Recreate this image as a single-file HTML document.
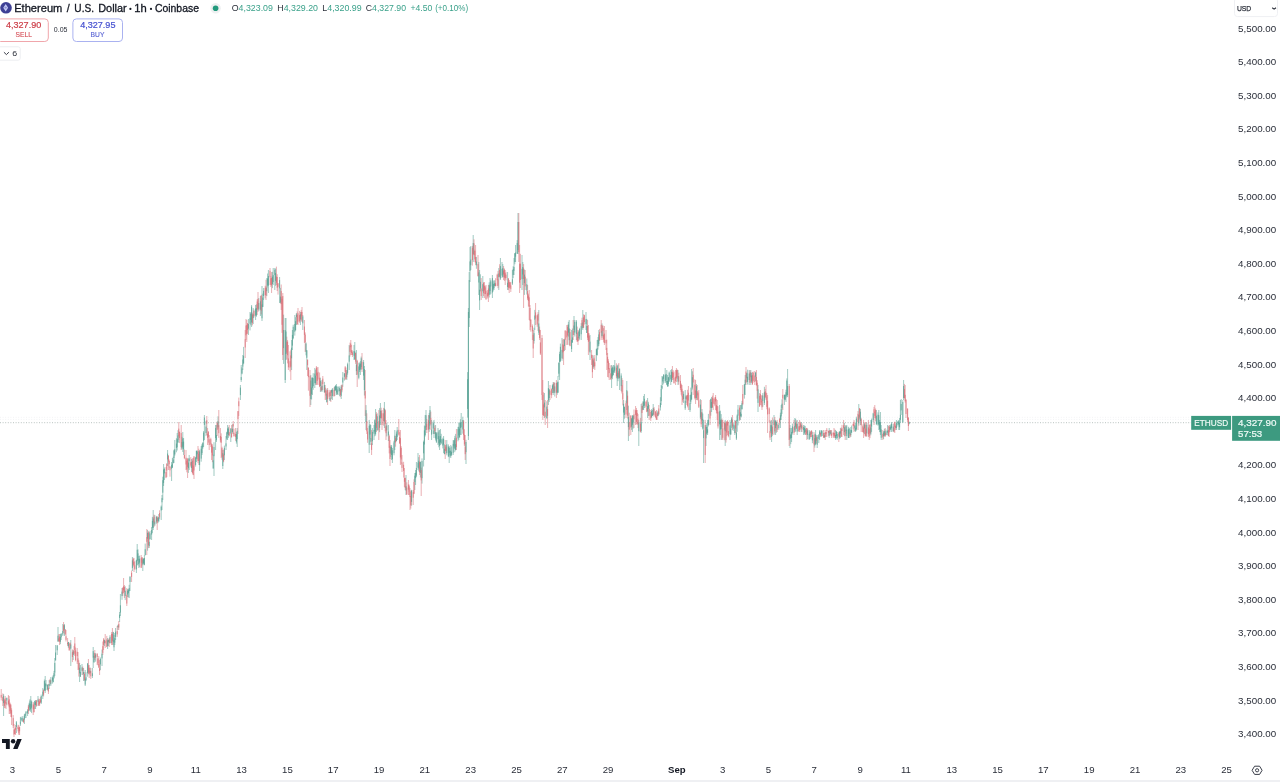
<!DOCTYPE html>
<html><head><meta charset="utf-8">
<title>ETHUSD 1h chart</title>
<style>
html,body{margin:0;padding:0;background:#fff;}
body{width:1280px;height:782px;position:relative;overflow:hidden;}
svg{position:absolute;left:0;top:0;filter:blur(0.3px);}
text{font-family:"Liberation Sans",Arial,sans-serif;white-space:pre;}
</style></head><body>
<svg width="1280" height="782" viewBox="0 0 1280 782">
<rect x="0" y="780" width="1280" height="2" fill="#eff0f3"/>
<!-- bid/ask faint lines -->
<line x1="0" y1="417.3" x2="1191" y2="417.3" stroke="#f3f3f4" stroke-width="1" stroke-dasharray="1 1.6"/>
<line x1="0" y1="419.4" x2="1191" y2="419.4" stroke="#f3f4f6" stroke-width="1" stroke-dasharray="1 1.6"/>
<!-- last price line -->
<line x1="0" y1="422.7" x2="1191" y2="422.7" stroke="#b9c3c0" stroke-width="1" stroke-dasharray="1 1.6"/>
<!-- candles -->
<g fill="none" stroke-width="0.8">
<path d="M3.60 694V716M6.80 697.6V705.2M16.40 721V733M20.40 717V726M21.20 716.6V721.5M22.80 716V722M24.40 714V724M25.20 713.5V718.1M26.00 711V718M27.60 709.1V716M29.20 702.7V710.6M30.00 699.2V711.2M30.80 696V712M31.60 700.4V713.1M34.80 700.8V709M35.60 700V709M38.00 696V706M41.20 694.6V704M42.80 688V699M44.40 679.5V691.1M45.20 676V693M46.00 680V690M47.60 684.3V690.5M49.20 680V689M50.80 677V686M52.40 676.5V683.6M53.20 675V682.3M54.00 670.9V678.5M54.80 658V676M55.60 645V660.7M57.20 645V655M58.00 627V642M60.40 634V644.1M61.20 633V640M62.80 624V636M64.40 624V636M68.40 641.9V647.8M70.80 640V666M73.20 650V660M79.60 663V682M80.40 665V676.9M82.00 664V675M83.60 668V681M85.20 670V686M86.00 672.2V681.1M87.60 663V676.7M90.00 667.4V673.5M92.40 668V678M93.20 647V668M94.00 652.8V662.5M95.60 653.1V661.7M100.40 657.5V670.1M102.00 649.5V666M104.40 639.7V646.1M107.60 638V649M108.40 639.5V646.1M110.00 635.1V643.4M113.20 631.8V644.9M114.00 635V651M114.80 633V645M115.60 628V640M118.00 624.7V630M119.60 612V622M120.40 594V616M122.00 588V599.8M125.20 586.3V600.1M127.60 589V597M128.40 588.9V597.4M129.20 584.8V598M130.00 576.5V591M132.40 557V571M136.40 559.7V573M137.20 544V565M138.00 549.4V565.6M138.80 556V568M139.60 555.6V567.3M142.80 558V571M143.60 558.5V564.4M144.40 555V565.3M145.20 543.6V555.5M147.60 530V550.7M149.20 532V548M150.00 530.8V539.5M151.60 527.1V540M152.40 516.9V533.2M153.20 510V530M154.80 515V526M156.40 515.9V523.7M158.00 517.4V523.2M158.80 514V522M161.20 505.5V520M162.00 495V510M162.80 476.7V500M163.60 464V486M164.40 467.4V480M167.60 450V466M171.60 462V481M172.40 458V468M173.20 456.7V463.5M174.00 449.7V463M174.80 440V455.6M176.40 438.2V452.3M177.20 433V450.5M178.00 430.2V442.8M182.00 436.8V449.3M182.80 432V452M183.60 438V455M188.40 458.4V472.9M189.20 455V470M191.60 459V472M195.60 456.9V466.6M196.40 450.5V462M197.20 450.4V459.3M199.60 450V471M201.20 446V461.7M202.00 443.9V455M202.80 442.3V448.8M203.60 431.1V447M204.40 415V440M206.00 420.7V436.1M213.20 454.6V468.7M214.00 442.2V476M215.60 425V450M216.40 424.9V442M218.00 416.3V428.8M222.80 450V469M224.40 445.6V460M226.00 436V450M226.80 431.7V439.9M227.60 425V440M228.40 426.9V437.9M230.80 428V442M232.40 424.3V433.5M236.40 431.9V443.6M237.20 428V447M240.40 385V400M241.20 365V381.9M242.00 367.1V374.3M242.80 355V370M243.60 346.9V364.2M248.40 319V335M250.00 312V330.4M250.80 312.5V325.3M251.60 305V327M253.20 308V324M255.60 305V320M256.40 304.3V316.8M258.80 298V310.9M260.40 296V316M262.00 286V321M262.80 293.6V307.1M263.60 288V300M266.80 278V296.1M267.60 273.5V287.7M268.40 270V293M272.40 271.8V288.1M273.20 268V285M274.80 268V290M275.60 268.6V285.8M279.60 277V303M280.40 287.9V303.4M283.60 314.7V363.9M285.20 318V383M286.00 318V360M291.60 340V370M292.40 330V350M293.20 324.7V339.3M294.80 315V335.6M295.60 317.2V330.7M296.40 313V325M300.40 312V325M302.80 315V330M306.00 342.4V355.3M306.80 350V370M310.80 375V405M311.60 377.6V399.5M312.40 377.1V395M313.20 373.2V389.8M314.80 368V388M315.60 369.5V384.9M320.40 377.7V392M322.00 380V392M324.40 381.9V392.6M326.80 388.6V402.6M330.00 391.7V400.7M331.60 389.7V398.9M332.40 388V400M334.80 386V396M335.60 385.1V390.8M336.40 384V395M337.20 389.3V394.8M338.00 386V395M339.60 386.4V396.2M341.20 385V399M342.80 372V386.8M344.40 372.9V380.6M346.80 370V380M347.60 362.7V374.7M349.20 345V370M354.00 345V360M354.80 342V360M356.40 350V375M358.80 362.7V379.3M359.60 362.5V372M360.40 361.1V375M361.20 356.6V369.7M363.60 360V380M364.40 366V395.5M366.00 405.1V430M369.20 420V453M370.00 424.3V438.6M370.80 425V445M372.40 428.1V445.1M374.00 425V440M374.80 419.3V436.3M375.60 409V435.5M377.20 413.4V430.8M379.60 408.1V432.2M380.40 403V425M384.40 402V428M386.80 422.9V436.4M388.40 425V441M390.80 444.9V456.9M391.60 445V460M392.40 448V463M394.00 440.8V455.3M394.80 430V450M396.40 431.5V441.5M397.20 427V440M406.00 475V495M411.60 489.8V505.7M414.80 473V490M415.60 470V485M416.40 462V477.2M418.00 453V470M418.80 457.1V471.4M420.40 461.5V477.5M422.00 458.4V483.6M423.60 440.6V466.5M424.40 425.5V460M425.20 415V436.5M426.00 410V430M429.20 412.9V431.9M430.00 406V425.7M431.60 420V440M433.20 421.6V433.9M434.00 420V438M435.60 425V440.5M436.40 432.1V443M438.00 428V445M438.80 430.3V447.3M439.60 430V450M440.40 429V445M441.20 433.8V444.3M442.80 437.7V448.4M443.60 436V453M444.40 444.3V454.4M446.80 440V455.3M448.40 444.4V457.1M449.20 446V463M450.00 447.6V457.3M450.80 445V458M451.60 446.4V455.8M453.20 440V455M454.00 440.1V448.4M454.80 435.9V452.2M455.60 433.9V450.5M458.00 426.9V441.3M458.80 423V440M459.60 422.3V437.6M460.40 419.2V435M461.20 413V435M462.80 416.7V433.7M466.00 439.8V464M467.60 372.1V417.7M468.40 308V440M469.20 272V327M470.00 247V282M470.80 246V270M473.20 235V262M476.40 256.9V268.8M478.80 262V295M479.60 270V310M480.40 274.3V291.4M482.80 276V298M489.20 282.3V297.5M490.00 278V295M490.80 279.8V293.9M492.40 275V298M493.20 281.1V291.5M494.00 280V290M494.80 280.6V286.1M498.80 268V290M500.40 258V280M502.00 262V278M502.80 264V277.2M507.60 272V290M512.40 270V285M513.20 266.2V278.2M514.00 258V275M514.80 253.2V264.3M515.60 245V262M517.20 240.1V253.8M518.00 213V254M522.00 255V290M522.80 262V285M524.40 269.5V294.9M526.80 278.5V294.5M534.00 327.7V343.6M534.80 309.9V330M538.80 310V335M544.40 393V418M546.80 401.3V418.7M548.40 381V405M549.20 389.2V402M552.40 384.6V393.1M553.20 382V395M554.80 382.8V396.5M557.20 381.6V394.8M558.00 376V393M558.80 362.6V376.6M559.60 351.7V380M560.40 343.6V362.1M562.00 338V360.8M564.40 338.8V351M568.40 321.8V336.6M569.20 320V345M571.60 330V352M572.40 328.5V342.7M574.00 316V335M574.80 320V336.5M576.40 320V340M578.80 330.5V340.7M579.60 327.8V339.6M581.20 323.1V340M582.80 310V330M586.00 312V330M586.80 318.9V333M590.00 335V360M593.20 355.3V368.9M596.40 348.8V361.1M597.20 340V355.6M598.00 337V349.6M598.80 330V346.1M602.00 323.4V337.7M611.60 365V388M612.40 366.4V379.2M613.20 365V375.4M614.00 365.1V372.9M614.80 360V372.8M617.20 365V386M618.00 364.5V381.2M619.60 368.5V390M621.20 373.3V391.1M623.60 400V423M624.40 406.5V418.8M626.80 381V410M628.40 405.7V441M631.60 417.9V429.9M632.40 415V432M633.20 415.4V428.6M638.80 420V446M641.20 404V432.8M642.80 401.4V410.2M643.60 396V410M644.40 394V408M647.60 398V418M648.40 401.8V416M651.60 409.1V417.8M652.40 410V415.9M653.20 404V415M658.00 410.6V416.3M660.40 397.2V410.5M661.20 385V405M662.00 376V389.3M662.80 376.3V385.1M663.60 374.2V383.6M665.20 368V383M666.00 373.9V382.3M666.80 370V385.2M667.60 375V387M668.40 377V386.4M669.20 371.6V382M670.80 370V385M671.60 369.1V382M678.00 370V385M683.60 391.4V403M685.20 390V410M686.00 395.3V402.8M690.00 395V412M690.80 387.6V403.8M691.60 369V400M692.40 371.3V389.5M696.40 384V399.9M700.40 399.1V419.2M702.00 409V421.3M702.80 413.6V429.6M703.60 420V463M706.00 425V446M706.80 423.1V434.5M707.60 420V435M708.40 413.9V426.4M710.80 398.6V415.7M711.60 397V412M719.60 405V440M720.40 410.7V435M721.20 414.1V440M725.20 420V446M730.00 420V440M730.80 421.8V435M731.60 417.1V428.2M733.20 423V430.9M734.80 420V435M736.40 420V440M737.20 414.4V431.8M738.00 405V425.4M740.40 405V420M741.20 405V417.3M742.00 400.9V409.5M744.40 384.1V398.6M745.20 375V395M746.80 372.8V382.3M747.60 369.7V384.6M749.20 370V385M750.80 370V385M751.60 372.9V383M755.60 372.1V381.1M758.00 384.9V412M762.80 393.1V406.8M764.40 386.8V405M770.80 420.9V433.2M771.60 420V442M774.00 415V435M775.60 420V435M776.40 421.7V432.8M778.80 423V429.8M780.40 412.7V428M781.20 405V420M782.00 399.3V413.9M784.40 394.5V405M785.20 394.5V400.3M786.00 389.7V402M786.80 378.4V397.5M787.60 369V397M790.00 425V448M790.80 434.5V444.2M791.60 428V442M792.40 423.6V434.5M794.80 418V432.1M795.60 418.7V431.6M797.20 420V435M801.20 422V432M803.60 425V435M804.40 425.5V434.4M805.20 425.9V435M807.60 428.7V439.1M809.20 430V440M810.00 430.8V438.8M812.40 431.8V443.2M814.80 433.7V447.7M815.60 430V445M817.20 435V448M818.80 434V443.1M819.60 430V440M821.20 430V437M822.00 430.2V436.2M824.40 432.8V438M829.20 428V438M830.80 430.1V434.7M835.60 430V440M836.40 431.2V438.7M837.20 432V439.8M839.60 431.3V439.2M840.40 428V438M844.40 422.9V436.3M846.00 425.5V433.7M846.80 425V440M848.40 426.8V438M849.20 427.7V438M850.80 427V437M851.60 425.5V432.8M854.80 425.3V431M855.60 423V432M856.40 416.7V430.6M858.80 404V425.7M860.40 409V425M864.40 422.7V434M866.80 422.8V436.5M870.80 420V435.3M871.60 418.5V431.9M873.20 412.8V422.2M876.40 410V425.1M878.00 412.3V425.7M878.80 410V430M879.60 420V432.1M880.40 412V435M881.20 425V440M883.60 431.1V439.1M884.40 428.8V436.5M886.00 429.6V435.3M887.60 425V435.1M890.00 425V432M890.80 424.3V429.9M891.60 422V432M893.20 424.1V432M896.40 420V430M898.00 420.7V426.6M898.80 420V430M899.60 418V430M900.40 400V422.9M901.20 399V415M902.80 400V423M903.60 380V400M909.20 421.6V424.4" stroke="#48988a" stroke-opacity="0.65"/>
<path d="M1.20 689V700.4M2.80 693.4V706M4.40 699.2V708.1M5.20 696V708M6.00 700V709M8.40 695V705.5M9.20 696V714M10.00 702.5V714M10.80 704V717M11.60 708.3V725M13.20 715.1V728M14.00 724V737M14.80 728.3V734.2M15.60 725V735M18.00 724.7V731.4M18.80 725V735M19.60 726.7V735M23.60 718.4V722.6M28.40 705V714M33.20 702V715M34.00 702.7V712.6M36.40 700V706.8M38.80 698.6V705.9M39.60 699V706M40.40 697.1V702.9M43.60 689.3V696.4M48.40 684V694M50.00 678.9V684.2M58.80 634.1V641.7M59.60 634V645M63.60 622V633M65.20 629V635.2M66.00 630V641.5M67.60 638V646M69.20 643.8V651M70.00 642.5V649.4M72.40 649.4V662.1M74.00 645.9V654.6M74.80 637V656M75.60 647.5V661.3M77.20 648V664M78.00 652V670M78.80 660.3V676.6M82.80 666.5V675.1M84.40 672.2V680.8M88.40 659V674M89.20 665V678M90.80 668V679M94.80 650V660M97.20 653V665M98.00 658V665.4M98.80 656V668.1M99.60 660V675M102.80 641.5V655M103.60 638V650M105.20 634V648M106.80 635.9V647.1M109.20 638V647M111.60 632V645M112.40 628V645M117.20 626V636.9M118.80 621V630M122.80 587.6V595.9M123.60 578V593M124.40 585V598M126.80 588V606M131.60 570.6V582M133.20 557.7V566.6M134.00 558V572M134.80 561.1V569.9M141.20 555V568M142.00 557.1V565.6M146.80 529V555M148.40 531.1V548.1M154.00 514.6V527M157.20 516V530M159.60 510.3V518.8M166.00 467V478.2M166.80 463.4V477M168.40 455V470M169.20 459.5V467.6M170.00 466.1V476.7M178.80 422V440M179.60 431.6V443.1M181.20 425V450M184.40 449.5V459.2M186.00 450V470M186.80 458.5V472.3M187.60 457.9V478M190.80 457.2V467.4M192.40 458.4V473.6M193.20 458V475.2M194.00 456.2V479M198.00 446V463.1M198.80 448.7V465M206.80 416V435M207.60 428V445M208.40 431V442.6M209.20 435V450M210.80 437.7V447.1M211.60 443.4V460M212.40 444.3V462.2M217.20 421.5V436M218.80 410V437.9M220.40 428V442.4M221.20 433.3V458M222.00 446.7V459.8M223.60 449.5V462.3M229.20 425V436.4M231.60 425V437.6M233.20 421V434M234.00 428.7V436.5M235.60 428V440.9M238.00 411.1V434M238.80 397.6V416M245.20 330V358M246.00 319V340M246.80 320V342M247.60 323V333.8M252.40 312.7V325.3M254.00 309.5V317.5M257.20 299.3V315M258.00 292V312M261.20 294.9V314.4M265.20 285.7V298.3M266.00 279.7V300M270.00 268V285M270.80 276.4V286.9M271.60 272V293M276.40 266.6V285M277.20 274.2V291M278.00 283.2V294.6M281.20 284.5V310M282.00 296.8V332.9M282.80 293V360M286.80 336.7V359.4M287.60 340V363.4M288.40 345V370M290.00 351.3V371.5M290.80 349.6V380M297.20 311.4V324.5M298.00 308V325M299.60 310.9V322.8M301.20 309.9V321.3M302.00 307V322M304.40 320V343M305.20 332.4V352M307.60 359.5V376M308.40 367.2V390.7M310.00 370V407M316.40 366V385M317.20 367.3V384.7M318.00 367V385M319.60 372.5V387.1M321.20 381.6V391.4M322.80 376V390M325.20 385V400M326.00 390.2V399.7M327.60 388V405M329.20 389.9V398.8M330.80 390V402M334.00 387.5V396.7M340.40 389.1V397.1M342.00 384.4V392.3M345.20 366V380M346.00 367.5V379.2M350.00 342.6V356.6M350.80 340V355M351.60 345V355M352.40 350.4V357M355.60 352.8V363.9M357.20 359.8V387M362.00 353V372M365.20 370V416M366.80 413.3V434M367.60 427.9V442.8M371.60 430V455M376.40 412.1V432M378.80 410V440M381.20 407.7V418.4M382.00 410V430M383.60 407.9V425.7M385.20 409.3V431.3M386.00 420V440M389.20 434.6V453.4M390.00 440V466M395.60 435.9V446.7M398.80 419V435.6M399.60 432.1V443.7M400.40 430V465M401.20 446.2V463.7M402.00 455V472M403.60 461.8V477.6M404.40 468V487M405.20 477.6V490.2M406.80 482.3V494.6M408.40 480V495M409.20 484.6V495M410.00 488V510M410.80 490.5V508.6M413.20 490V505M414.00 479.3V494.1M419.60 455V475M421.20 467.6V496M426.80 418.9V433M428.40 415V440M430.80 411.7V429.8M434.80 425.4V434.1M445.20 440V459M446.00 445.4V453.8M456.40 429V450M463.60 420V440M464.40 429.2V446.1M465.20 435V460M472.40 245.9V265.6M474.00 239.3V255.3M474.80 249.7V262.2M475.60 245V265.1M478.00 255V276.4M481.20 278V300M483.60 282.2V296M484.40 282V298M485.20 285.8V294.1M486.00 285V300M487.60 290.1V298.5M488.40 285V302M495.60 278.2V286.3M497.20 273.7V286M498.00 270.9V288.2M499.60 264.2V277.3M503.60 266V280M504.40 268.4V280.9M505.20 270V285M506.00 271.9V280.3M508.40 278.3V290.1M509.20 280V293M510.00 281.8V287.9M510.80 282V292M518.80 213V262M519.60 245V293M520.40 253.8V288M523.60 264.1V308M525.20 270V290M527.60 285V300M528.40 293.6V306.5M529.20 290V320M530.00 305V330M530.80 319.3V331.7M532.40 324.4V340M533.20 330V358M535.60 303V325M537.20 315.2V326.8M538.00 312.1V330.9M539.60 326.6V340M540.40 330V355M542.00 335V400M542.80 380V420M543.60 392.3V415.8M545.20 400V425M547.60 400V428M550.00 385V400M551.60 388.4V398.2M554.00 382V392.9M556.40 380V398M562.80 339.5V358.9M563.60 339V365M565.20 330V350M566.80 325V345M567.60 324.8V344.8M570.00 329V346.3M573.20 320V340M577.20 326.6V341.6M578.00 330V345M582.00 317.7V328.4M583.60 314.3V328M584.40 314.8V324.5M587.60 320V340M588.40 325V355M589.20 333.3V351.6M591.60 350V365M592.40 354.9V378M594.00 357.6V368.5M594.80 355V370M599.60 328.9V341M601.20 320V340M602.80 325V340M603.60 328.1V342.4M604.40 326V345M606.00 330V350M606.80 339.7V370M607.60 353V377M608.40 359.2V377.5M609.20 363V380M610.80 365.3V379.9M616.40 363.3V378.4M618.80 363V378.2M622.00 378.1V393.7M622.80 380V405.4M626.00 400.6V418M627.60 391.3V418.6M629.20 412.7V436.1M630.80 415V435M634.00 409.5V428M635.60 406V425M636.40 408V424.1M637.20 410V425M638.00 414.1V428M640.40 417.9V432.4M642.00 402.9V421.5M646.00 401.2V407.9M646.80 400V412.2M649.20 405V420M650.80 410V421M654.00 407V416.6M655.60 411.1V418.2M656.40 410V420M657.20 412.8V420M658.80 405V415M672.40 366V380M673.20 370.2V379.7M674.00 371.6V383.4M675.60 370V385M676.40 368V382M677.20 369.5V378.8M678.80 372.7V384.6M680.40 375V390M681.20 383.5V394.7M682.00 385V405M682.80 390.9V402.2M686.80 394.9V405M687.60 389.8V407.4M688.40 386V410M693.20 368V395M694.80 379.3V399.4M695.60 380V404M697.20 385V400.1M698.00 391.6V400.6M698.80 390V408M701.20 400V427M705.20 420V463M710.00 400V425M712.40 395.6V407.9M713.20 393V410M714.80 397.2V406.2M715.60 395V410M716.40 398.9V413.4M717.20 400V420M718.00 406.3V428.5M722.00 418.5V439.6M722.80 420V440M724.40 421.5V440.2M726.00 421.5V442.6M726.80 421.2V436.1M727.60 420V435M728.40 421.8V437.3M732.40 415V430M735.60 420.7V433.3M739.60 405.3V421M742.80 385V405.2M746.00 367V385M750.00 370.3V383M752.40 372V385M753.20 371.5V382.7M754.80 371V385M756.40 370V385.7M757.20 380.2V398.6M759.60 393.1V407M760.40 390V405M761.20 395.5V405.4M762.00 395V410M765.20 388.9V398.3M766.00 385V400M766.80 393.1V409.3M767.60 395V433M769.20 407.3V422.8M770.00 420V440M772.40 417.5V435.9M774.80 417V433.6M777.20 420V432M779.60 417.8V424.8M782.80 389V410M789.20 384V446M794.00 420V435M796.40 420.5V428.8M798.80 422V431.5M799.60 420V432M800.40 421.7V429.5M802.00 423.3V432M806.00 427.9V435M806.80 427.9V440M810.80 430.9V437.1M811.60 430V437M814.00 432V452M816.40 435.3V443.7M820.40 432.3V436.8M823.60 430V438M825.20 430V440M826.00 431.8V436.7M826.80 428V437M828.40 430.5V436.3M830.00 430V436M831.60 430V438M833.20 432.2V437.7M834.00 428V438M834.80 429.5V438.1M838.80 431.8V442M841.20 427.4V437M842.00 424.9V437M843.60 420V435M845.20 425V440M850.00 432.4V437.6M853.20 423.5V429.5M854.00 420V432M858.00 411V430M859.60 408V419.5M861.20 417.8V432M862.80 424.5V432.2M863.60 420V438M865.20 422.1V436.4M866.00 422V437M868.40 420V437M869.20 425V440M870.00 424.3V438.1M874.00 406.9V425M874.80 405V418M875.60 408.5V421.3M882.80 430V440M885.20 428V437M888.40 426V436.2M889.20 425V437M894.00 423.2V432.2M894.80 421.6V433M895.60 424.4V429.9M904.40 383.9V398.5M905.20 385V402.6M906.00 399V418M907.60 408V422M908.40 417V431" stroke="#d7646c" stroke-opacity="0.65"/>
<path d="M3.60 695.7V703.1M6.80 697.9V700.4M16.40 722.3V727M20.40 721.6V724.4M21.20 718V720.4M22.80 717.8V721.2M24.40 715.5V719.6M25.20 713.6V715.8M26.00 711.8V713.5M27.60 710.5V713.4M29.20 703.8V707.5M30.00 700.6V709.9M30.80 703.9V709M31.60 701.5V707.7M34.80 700.9V704.9M35.60 702V705.1M38.00 699.5V701.8M41.20 696V702.7M42.80 691.7V696.2M44.40 681.1V690.2M45.20 683.4V690.9M46.00 683.9V686.4M47.60 684.9V689.5M49.20 684V686M50.80 680.2V684.3M52.40 677.6V680.7M53.20 677.8V682.1M54.00 673.2V677.5M54.80 662.9V672.6M55.60 652.5V660.3M57.20 645.5V650.3M58.00 635.7V641.3M60.40 636.9V641.8M61.20 633.9V637.3M62.80 631V634.5M64.40 625.2V629.6M68.40 642V646.3M70.80 644.4V648.6M73.20 651.4V655M79.60 667.7V673.4M80.40 671.9V676.7M82.00 667.4V670.8M83.60 672V674.2M85.20 678.8V684.6M86.00 677.3V680.1M87.60 663.5V673.2M90.00 670.7V672.9M92.40 673.3V676.1M93.20 651.1V657.7M94.00 655.9V662.4M95.60 654.5V657.7M100.40 659V664.4M102.00 653.7V658.4M104.40 640.2V643.1M107.60 640.3V645.9M108.40 639.9V642.1M110.00 636.8V643.2M113.20 632.2V642.2M114.00 639.9V647.3M114.80 638.1V642.7M115.60 631.7V636.9M118.00 625.5V627.3M119.60 614.7V617.9M120.40 605.3V612.6M122.00 591.6V596.1M125.20 590.8V596M127.60 590.7V594.6M128.40 590.2V593.3M129.20 588.1V591.2M130.00 576.5V582M132.40 560.4V568.1M136.40 560.4V569.4M137.20 549.8V561.1M138.00 553.4V560M138.80 559.3V564.1M139.60 558.7V562.6M142.80 559.6V564.5M143.60 558.7V563.3M144.40 557.9V564.8M145.20 549.2V555M147.60 532.8V538.7M149.20 541.8V546.1M150.00 533.4V539.2M151.60 530.1V534.6M152.40 520.9V527.8M153.20 518.5V528M154.80 521.5V524.5M156.40 517V521.5M158.00 518V521.1M158.80 517V520.7M161.20 506.7V510.5M162.00 498.1V502.3M162.80 480.2V492.7M163.60 469.5V482.9M164.40 468.9V473.4M167.60 453.6V459.5M171.60 464.9V468.7M172.40 463.6V467.5M173.20 459.6V463M174.00 450.5V458M174.80 449.2V454.3M176.40 443.6V447.9M177.20 439.2V447.3M178.00 435.4V442.4M182.00 442V448.3M182.80 438.4V446.8M183.60 441.6V449.3M188.40 462.6V468.2M189.20 458.4V461.2M191.60 461.9V468M195.60 457.6V464.9M196.40 451V458.7M197.20 451.5V454.3M199.60 451.5V465.1M201.20 448.8V458.6M202.00 445.5V453.1M202.80 442.8V447.4M203.60 432.6V440.8M204.40 417.6V424.9M206.00 426.6V433M213.20 460.3V468.4M214.00 447V456.2M215.60 428.1V438.1M216.40 435V440.2M218.00 421.3V427.1M222.80 453.2V466M224.40 447.8V455.3M226.00 443.4V446.5M226.80 432.4V438.6M227.60 428.4V433.8M228.40 428.5V435.1M230.80 428.7V433.5M232.40 428.8V432M236.40 434.1V441.7M237.20 430.8V439.1M240.40 387.6V395.1M241.20 377.1V380M242.00 368.5V373.5M242.80 359.5V366.7M243.60 355.8V363.2M248.40 324.1V328.7M250.00 318.3V323.7M250.80 313.8V319.8M251.60 306.6V322.5M253.20 314.3V318.1M255.60 308.5V315.6M256.40 308.1V315.5M258.80 303V309.5M260.40 301.3V309.7M262.00 304.4V318.3M262.80 297.6V306.9M263.60 290.9V296M266.80 287.9V291.2M267.60 278.4V285.6M268.40 276V285.6M272.40 276.7V284M273.20 275.1V282.1M274.80 269.7V275.1M275.60 273.1V280.8M279.60 280.1V288.3M280.40 296.6V302.5M283.60 330V348.1M285.20 330V380M286.00 331.5V354.1M291.60 347.7V358.3M292.40 334.9V345.6M293.20 326.8V338.2M294.80 324V331.7M295.60 321.2V330.1M296.40 314.4V317.1M300.40 314.4V319.4M302.80 316.4V323.3M306.00 343.5V351.5M306.80 350.5V357.8M310.80 380.5V399.1M311.60 387.5V394.2M312.40 378V387.9M313.20 378.1V386.2M314.80 373.5V383.2M315.60 375.6V383.2M320.40 380.7V386M322.00 385.9V390.5M324.40 385.1V392.4M326.80 393.7V402M330.00 397.8V400.7M331.60 389.9V392.7M332.40 389.5V396M334.80 387V390.8M335.60 385.8V390M336.40 386.4V392.5M337.20 390.8V394M338.00 387V391.4M339.60 388.1V391.2M341.20 386.6V395.9M342.80 377.5V382.5M344.40 373.5V376.8M346.80 372.5V377.2M347.60 364.3V372.8M349.20 355.4V361.7M354.00 351V355.7M354.80 351.6V359M356.40 364.7V371.2M358.80 366.4V377.8M359.60 364.4V370.1M360.40 363.6V369.5M361.20 358.3V367.1M363.60 362.2V375.6M364.40 369.1V390.2M366.00 410.1V422M369.20 425.9V444.8M370.00 424.5V434.5M370.80 438.1V441.7M372.40 431.9V441.3M374.00 430V433.7M374.80 420.2V431.6M375.60 423V433.9M377.20 416.3V430.1M379.60 415.5V427.8M380.40 410.6V418.1M384.40 408.6V421.6M386.80 425.4V430.4M388.40 431.5V435.4M390.80 447V453.6M391.60 446.7V455M392.40 450.3V459.2M394.00 442.5V453.2M394.80 435.7V442.6M396.40 433.7V441M397.20 430.2V436.9M406.00 486.2V490.5M411.60 490.6V501.9M414.80 475.7V482M415.60 472.8V478.2M416.40 467.9V475.6M418.00 462.6V467.6M418.80 460.7V468.6M420.40 462V472.9M422.00 461V478.2M423.60 442V453.3M424.40 430.4V444.5M425.20 426.4V435.1M426.00 415.2V427.2M429.20 415.3V429.3M430.00 410.1V418.4M431.60 429.7V434.6M433.20 423.2V428.6M434.00 430.6V434M435.60 432.1V438.5M436.40 433.3V441.8M438.00 432.3V439.2M438.80 436.2V443.4M439.60 439.4V445.9M440.40 436.1V442.3M441.20 439.2V443.3M442.80 439.3V445.5M443.60 438.9V444.5M444.40 448.9V454M446.80 444.3V453.1M448.40 446.7V456.3M449.20 447.7V452.9M450.00 451V455.4M450.80 450.6V455.8M451.60 451.9V454.7M453.20 443.9V452.8M454.00 440.6V446.4M454.80 438.2V448.7M455.60 444.2V449.9M458.00 429.1V438.4M458.80 426.8V435.4M459.60 428.6V437.4M460.40 422.9V428.2M461.20 422V427.4M462.80 420V429.5M466.00 442V452.2M467.60 379.2V408.9M468.40 312V436M469.20 280V318M470.00 261.4V271.1M470.80 259.5V265.2M473.20 243V254.1M476.40 261.5V265.3M478.80 272.4V282.5M479.60 289.7V300.4M480.40 281.8V288.5M482.80 284.2V291.3M489.20 284.7V294.5M490.00 285.6V291M490.80 281.4V286.4M492.40 278.1V292.5M493.20 283.8V289.4M494.00 283.9V288.1M494.80 282.9V285.8M498.80 273.5V277.1M500.40 266.1V278.6M502.00 268.8V275.5M502.80 268.1V276.9M507.60 282.7V286.9M512.40 279.3V283.6M513.20 269.1V274.9M514.00 267V270.8M514.80 253.3V262.1M515.60 252.5V256.7M517.20 243.1V253.8M518.00 222V250M522.00 268.8V279.2M522.80 267V274.5M524.40 274.6V283.1M526.80 284.2V290.4M534.00 333.1V341M534.80 315.5V319.7M538.80 323.5V332.7M544.40 402.6V407.4M546.80 406.6V418.2M548.40 388.1V400.3M549.20 389.5V398M552.40 385.6V389.1M553.20 384.1V392.9M554.80 386.4V392.8M557.20 382.8V392.7M558.00 381.8V392.5M558.80 362.6V373.7M559.60 354.1V361.9M560.40 346.8V360.9M562.00 349.9V358.4M564.40 339.8V346.1M568.40 324.5V332.7M569.20 328.4V340.2M571.60 339.8V349.1M572.40 337.4V342.7M574.00 325.5V330.1M574.80 321.9V332.6M576.40 321.6V333.9M578.80 331.7V338.2M579.60 329V336.2M581.20 326.1V334.2M582.80 322.5V328.1M586.00 319.1V324.1M586.80 326V333M590.00 341.6V352.5M593.20 360.3V366.8M596.40 349.3V355M597.20 348.1V355M598.00 339.8V346.4M598.80 334.4V344.2M602.00 331.1V336M611.60 368.3V378M612.40 367.5V376.4M613.20 370.5V375.1M614.00 367.5V371.6M614.80 366.4V370.5M617.20 366.2V377.7M618.00 373V378.9M619.60 368.7V378.4M621.20 375.6V386.1M623.60 403.8V412.6M624.40 407V414.9M626.80 390.2V403.3M628.40 417.1V427.1M631.60 418.6V426.7M632.40 416.3V424.8M633.20 415.6V422.6M638.80 422.4V431.2M641.20 421.9V431.1M642.80 405.8V409.7M643.60 401.6V406.1M644.40 398.8V405.7M647.60 406.1V411.5M648.40 403.6V408.8M651.60 411V417.3M652.40 413.5V415.8M653.20 408.1V414.4M658.00 411.6V415.9M660.40 402.9V407.4M661.20 389V401.2M662.00 385.9V388.5M662.80 377.3V381.5M663.60 374.7V378.8M665.20 375.2V381.1M666.00 374.4V380.3M666.80 381V384.6M667.60 380.9V386.2M668.40 377.4V384.1M669.20 372.7V380.7M670.80 374.9V379.4M671.60 371.8V381.7M678.00 376.1V381.7M683.60 393.9V399M685.20 400.8V408.3M686.00 396.5V399.2M690.00 403.1V410.1M690.80 394.7V401.7M691.60 392.2V399.3M692.40 377.2V387.6M696.40 386.2V397.9M700.40 404.6V417.4M702.00 412.4V420.1M702.80 418.9V428.5M703.60 430.3V438.1M706.00 426.8V438.3M706.80 427V433.6M707.60 429.4V432.7M708.40 419.8V424.9M710.80 399.1V407.9M711.60 402V408M719.60 411.3V424.3M720.40 420.2V429.5M721.20 419.5V429.2M725.20 423.3V431.2M730.00 425.4V434.3M730.80 428.7V434.3M731.60 418.5V422.5M733.20 424.5V428.7M734.80 425.3V433M736.40 432.5V438.5M737.20 415.5V421.1M738.00 409.6V415.7M740.40 412.2V416.2M741.20 413.8V416.5M742.00 403.2V409.2M744.40 384.4V394.6M745.20 379.7V384.8M746.80 373.3V378.2M747.60 376.8V381.9M749.20 373.6V380M750.80 372.4V377.2M751.60 375.5V381.6M755.60 372.6V376.7M758.00 389.3V402.9M762.80 395.5V401M764.40 392.3V402.9M770.80 425.1V431.3M771.60 425.3V437M774.00 419.7V425M775.60 420.8V428.1M776.40 421.8V425.5M778.80 424.8V428.1M780.40 415.3V420M781.20 409.2V416.4M782.00 403.7V408.3M784.40 395V399.5M785.20 395.3V399.7M786.00 392.2V396.3M786.80 380.6V395.4M787.60 386V395M790.00 428V438.6M790.80 434.6V438.4M791.60 431.9V437.9M792.40 426.4V432.9M794.80 425.9V429.8M795.60 422.5V426.6M797.20 423.8V431.6M801.20 424.8V428M803.60 427V430.2M804.40 427.8V432.8M805.20 428.9V432M807.60 430.4V435M809.20 433.8V439.3M810.00 432.1V434.9M812.40 434.9V440.4M814.80 438.1V445.6M815.60 434.4V443.8M817.20 436.8V444.8M818.80 435.2V438.9M819.60 431.4V434.5M821.20 430.6V433.7M822.00 431.2V435.9M824.40 435.2V437.4M829.20 431.3V435.5M830.80 431.4V434.2M835.60 435V438M836.40 431.5V436M837.20 434V438M839.60 431.7V437.6M840.40 431.2V433.6M844.40 427.3V432.1M846.00 426.4V430.9M846.80 429.6V436.1M848.40 429.3V437.9M849.20 428.6V433.9M850.80 429.8V435.1M851.60 430.1V432.6M854.80 425.6V428.3M855.60 427.8V430.6M856.40 418.6V429.4M858.80 414.8V423.3M860.40 411.7V421.2M864.40 424.4V428.4M866.80 424.8V433.4M870.80 427.5V433.7M871.60 420.2V426.6M873.20 413.4V420M876.40 415.7V424.1M878.00 414.7V424.5M878.80 415.1V424.5M879.60 422.1V429.4M880.40 422V432.1M881.20 429.4V437.8M883.60 432.6V436.2M884.40 431.1V435.4M886.00 431.2V435M887.60 430.6V432.7M890.00 427V430.2M890.80 426.4V429.1M891.60 423.6V428M893.20 426.5V431.1M896.40 422.7V428.1M898.00 421.4V425M898.80 421.7V424.1M899.60 422.9V427.3M900.40 414.8V419.8M901.20 404V410.4M902.80 402V422M903.60 386V398M909.20 422V423.6" stroke="#48988a" stroke-opacity="0.85"/>
<path d="M1.20 694.9V697.7M2.80 697.1V701.1M4.40 700.6V705.9M5.20 698.3V702.9M6.00 702.3V704.2M8.40 700.7V703.9M9.20 699.3V707.4M10.00 703.6V711.2M10.80 705.1V713.4M11.60 710.2V717.3M13.20 718.1V725.8M14.00 729.6V734.6M14.80 729.3V734M15.60 727.6V729.7M18.00 726.7V729M18.80 728.1V733.3M19.60 726.9V731.2M23.60 719.3V722.4M28.40 706.6V711.2M33.20 704.3V709.4M34.00 705.1V712M36.40 700.5V705.8M38.80 700.7V705.3M39.60 701.7V704.3M40.40 699.6V702.3M43.60 690.2V694.7M48.40 687.9V691.5M50.00 680.4V682.5M58.80 638.3V641.1M59.60 636.6V641.7M63.60 625.2V630.9M65.20 629.5V633.9M66.00 636.3V639.8M67.60 642.8V644.3M69.20 646.3V649.9M70.00 642.9V645.8M72.40 652.1V657M74.00 650.5V653.6M74.80 643.5V650M75.60 650.3V660.1M77.20 651.8V656.1M78.00 658.4V662.1M78.80 662.5V669.7M82.80 668.1V670.7M84.40 674V679.9M88.40 665.2V672.6M89.20 668V674.6M90.80 671.1V676.3M94.80 653.2V657.9M97.20 654V657.1M98.00 658.7V663.5M98.80 664V667.4M99.60 668.3V671M102.80 646.2V652.9M103.60 639.5V644.9M105.20 640.7V643.4M106.80 639.4V646.7M109.20 639.5V642.9M111.60 633.9V643.1M112.40 633.9V640.8M117.20 631.1V634.4M118.80 623.9V627.6M122.80 587.6V593.8M123.60 586.3V590.3M124.40 587.1V591.9M126.80 594.8V603.6M131.60 572.8V576.9M133.20 559V564.7M134.00 562V565.5M134.80 565.3V568.8M141.20 558.3V567.7M142.00 557.2V562.9M146.80 537.1V541.8M148.40 532.6V545.3M154.00 516.7V522.5M157.20 517.2V522.7M159.60 513V516.8M166.00 472V477.5M166.80 463.6V470.5M168.40 455.9V461.5M169.20 461V464.2M170.00 466.8V470.3M178.80 428.6V436.3M179.60 431.9V438.1M181.20 433.1V447.1M184.40 455V458.1M186.00 457.7V464.5M186.80 460.8V469.5M187.60 459.3V466.8M190.80 462.2V465.6M192.40 460.7V472.8M193.20 465.5V474.9M194.00 456.5V470.5M198.00 453.8V461M198.80 451V461M206.80 420.3V423.7M207.60 433.7V437.9M208.40 432V436.9M209.20 439.2V445M210.80 439.1V444.6M211.60 444.4V452.7M212.40 446.4V455.4M217.20 422.9V429.9M218.80 425.1V433.2M220.40 435.9V440.3M221.20 436.8V442.7M222.00 448.1V456.9M223.60 454.5V461.4M229.20 432.1V435.5M231.60 433.3V437.2M233.20 424.1V426.5M234.00 432.7V436.3M235.60 433.9V436.9M238.00 411.1V419.1M238.80 401.3V406.2M245.20 339.2V347.5M246.00 325.5V335.3M246.80 325V333.9M247.60 323.5V329.9M252.40 314.5V322.9M254.00 310.9V316.1M257.20 301.5V309.8M258.00 298.8V308.6M261.20 295.7V310.7M265.20 288V295.1M266.00 286.6V295.5M270.00 270.8V277.3M270.80 278.3V284.8M271.60 278V285.4M276.40 276.5V282.7M277.20 277V287.8M278.00 283.3V286.8M281.20 291.1V304.1M282.00 298.8V324.8M282.80 296V355M286.80 341.6V352.7M287.60 341.7V355.2M288.40 358.4V367.3M290.00 361.2V367.6M290.80 355.4V366.7M297.20 315V324.2M298.00 313.3V321.7M299.60 315.1V321.4M301.20 311.9V319.7M302.00 312V316.3M304.40 326.5V334.9M305.20 334.6V342.2M307.60 359.7V365.2M308.40 367.9V377.2M310.00 375.8V395.8M316.40 367.7V375.6M317.20 372.9V381M318.00 371.8V379.5M319.60 377.7V386.5M321.20 387.1V390.3M322.80 378.6V384.1M325.20 387.7V392.5M326.00 390.6V395.6M327.60 390.1V399.1M329.20 392.5V396.7M330.80 390.5V396M334.00 389.9V396.1M340.40 389.2V395M342.00 385.2V390.3M345.20 367.3V371.8M346.00 370.2V378.8M350.00 345.8V351.9M350.80 343.6V347.2M351.60 350.2V352.9M352.40 352.3V355M355.60 352.9V361.6M357.20 360.8V374.7M362.00 361.9V369.3M365.20 391.1V398.5M366.80 421.2V431.3M367.60 431.4V439.5M371.60 443.3V449.9M376.40 414.2V427.9M378.80 421.3V430.2M381.20 410.9V418.2M382.00 413.3V425M383.60 413.3V421.1M385.20 410.3V424M386.00 426.3V433.2M389.20 436.1V447.8M390.00 446.1V459M395.60 438.2V442.3M398.80 429.8V434.6M399.60 437.1V443.5M400.40 438.1V457.5M401.20 447.9V459.5M402.00 462.4V467.9M403.60 464.8V470.9M404.40 478.1V481.8M405.20 478.1V488M406.80 487.6V494.6M408.40 484.5V489.7M409.20 486.3V491.8M410.00 491.8V497.1M410.80 496V505.4M413.20 492.2V497.7M414.00 482V493.7M419.60 462.1V472.2M421.20 470.1V480.4M426.80 423.6V429.9M428.40 420.2V429.7M430.80 417.9V424.4M434.80 427.9V431M445.20 445.1V450.8M446.00 447.2V451.2M456.40 437.7V447.1M463.60 421.4V435.1M464.40 434.7V444.4M465.20 446.7V454.2M472.40 247.8V260.1M474.00 243.4V254.9M474.80 251V259.4M475.60 257V262.5M478.00 264V276.2M481.20 288.5V296.1M483.60 282.8V293.2M484.40 285.7V290.5M485.20 287.4V294M486.00 290.7V298.9M487.60 292.7V296.5M488.40 288.5V295.6M495.60 283.4V286.2M497.20 274.7V280.2M498.00 279.4V285.8M499.60 269.9V276.6M503.60 270.5V274.5M504.40 269.5V277.5M505.20 273.2V278.4M506.00 274.7V278M508.40 278.4V287.5M509.20 281.9V288.4M510.00 282.7V286.6M510.80 285.5V289.2M518.80 222V252M519.60 263.7V282.7M520.40 263.7V280M523.60 268.4V279M525.20 276.7V286.4M527.60 291.1V298.4M528.40 295.5V301.1M529.20 297.3V306.8M530.00 308V320.8M530.80 319.7V327.1M532.40 326.1V331.3M533.20 334.9V348.5M535.60 312.4V318.4M537.20 315.4V324.5M538.00 314V320.5M539.60 329.6V338M540.40 342.4V353.6M542.00 338V395M542.80 395V415M543.60 404.4V415.7M545.20 411.7V416.8M547.60 409.1V415.8M550.00 390.7V394.8M551.60 389.2V395.3M554.00 382.8V390.8M556.40 383V392.7M562.80 344.3V352.4M563.60 345.3V351.5M565.20 330.9V339.8M566.80 331.2V337.4M567.60 326.8V335.6M570.00 332.1V345.9M573.20 330.7V335M577.20 332.6V341.6M578.00 336.9V341.3M582.00 320.1V326.2M583.60 317.3V327.5M584.40 315.2V322M587.60 326V337.7M588.40 333.1V341.7M589.20 335.8V341.5M591.60 354.8V358.2M592.40 358.6V372.2M594.00 358.7V366.4M594.80 362.3V366.3M599.60 332.2V339.9M601.20 324.9V332.7M602.80 326V331M603.60 334.7V339.4M604.40 333.6V343M606.00 339.9V343.3M606.80 347.9V355.1M607.60 356.8V362.8M608.40 361.3V369.2M609.20 368V373.1M610.80 373.4V379.2M616.40 367.9V376.1M618.80 371.3V377.4M622.00 385.2V392.4M622.80 393.3V399.4M626.00 403.3V414.5M627.60 395.7V415.7M629.20 422.3V429.7M630.80 415.8V427.5M634.00 414.4V419.2M635.60 410.2V414.9M636.40 410.1V421.9M637.20 412.9V416.1M638.00 418.7V424M640.40 423.7V431.7M642.00 406V413M646.00 401.8V406.6M646.80 408.1V411.7M649.20 408.8V415.8M650.80 412V418.5M654.00 408.7V415.4M655.60 411.6V416.9M656.40 416.4V419.5M657.20 413.6V416.2M658.80 408.5V414M672.40 372.1V378M673.20 372.7V377.3M674.00 377.5V383.3M675.60 376.7V381.2M676.40 370.3V378.3M677.20 369.9V376.8M678.80 376.3V381.6M680.40 380.9V388.1M681.20 384.6V391.8M682.00 388.8V396.4M682.80 396.1V400.3M686.80 395.9V399.6M687.60 395V405.9M688.40 392.7V400.5M693.20 374.8V382.5M694.80 384.8V397.8M695.60 390.5V398.2M697.20 391.2V395.4M698.00 393.3V399.8M698.80 400.3V406.7M701.20 412.2V424.3M705.20 425V455M710.00 410.5V418.6M712.40 397.6V407.4M713.20 398.5V403.8M714.80 398.6V404.5M715.60 397.1V401.4M716.40 405.1V410.8M717.20 405.9V413.5M718.00 411.7V426.4M722.00 420V427.4M722.80 428.3V437.8M724.40 422.8V429.6M726.00 423.4V440.1M726.80 421.7V432.5M727.60 421.7V425.6M728.40 431.1V436.1M732.40 419.7V426.6M735.60 421V428.6M739.60 407.7V419.7M742.80 394V403.9M746.00 371.5V382.5M750.00 372.4V382.4M752.40 375.2V384.2M753.20 372.8V380.9M754.80 375.5V382M756.40 376.9V385.1M757.20 382.8V390.8M759.60 395.9V406.3M760.40 394.1V399.4M761.20 398.7V402.5M762.00 401.1V407.3M765.20 391.3V397.4M766.00 392.6V396.8M766.80 396.7V406.8M767.60 400.8V414.4M769.20 408.4V414.1M770.00 431.1V437.6M772.40 426.7V434.3M774.80 421.5V431.3M777.20 424.4V429.8M779.60 419.2V422.4M782.80 394.8V398.5M789.20 386V440M794.00 427.2V432.8M796.40 423.7V428.6M798.80 426.3V431.5M799.60 426.2V429.9M800.40 423.4V427M802.00 425.6V429.3M806.00 430.1V434.6M806.80 428.1V433.5M810.80 432.4V437.1M811.60 431V434.2M814.00 434.9V444.4M816.40 437.4V440.7M820.40 433V435.6M823.60 433V437.5M825.20 432.5V437M826.00 432V434.1M826.80 429.8V431.2M828.40 431V432.8M830.00 430.1V432.8M831.60 433.5V435.9M833.20 432.8V434.6M834.00 432.9V436.2M834.80 433.1V436.5M838.80 433.2V436.6M841.20 429.1V436.6M842.00 428.3V431M843.60 425.3V428.3M845.20 429.7V435.9M850.00 434V435.9M853.20 423.9V426.1M854.00 421.8V426.1M858.00 413.8V421.9M859.60 408.4V417.5M861.20 419.2V425.4M862.80 426.3V432.1M863.60 427.7V432.7M865.20 424.9V435.5M866.00 428.6V436M868.40 427.4V434.3M869.20 428.8V436.3M870.00 424.5V433.2M874.00 409.3V412.8M874.80 411.6V415.8M875.60 409.9V418.4M882.80 433.8V437.4M885.20 432.9V436M888.40 430.2V435.9M889.20 426.5V432.4M894.00 427.5V431.4M894.80 422V427.1M895.60 426V428M904.40 389.1V398M905.20 394.8V401.1M906.00 400V414M907.60 409V420M908.40 418V426" stroke="#d7646c" stroke-opacity="0.85"/>
</g>
<!-- TradingView logo -->
<g transform="translate(2,736.8) scale(0.556)" fill="#131722">
<path d="M14 22H7V11H0V4h14v18zM28 22h-8l7.5-18h8L28 22z"/><circle cx="20" cy="8" r="4"/>
</g>
<!-- ETH icon -->
<circle cx="6" cy="7.8" r="5.8" fill="#3e4095"/>
<path d="M5.7 3.9 L8.1 7.7 L5.7 11.4 L3.3 7.7 Z" fill="#c6cbf6"/>
<path d="M5.7 6.6 L7.3 7.7 L5.7 8.8 L4.1 7.7 Z" fill="#8d92cf"/>
<!-- live dot -->
<circle cx="215.6" cy="8.2" r="5.2" fill="#eef0f1"/>
<circle cx="215.6" cy="8.2" r="2.8" fill="#22997c"/>
<!-- sell / buy boxes -->
<rect x="-3" y="18.9" width="51.3" height="22.6" rx="3.5" fill="none" stroke="#f0a6ab" stroke-width="1"/>
<rect x="72.9" y="18.9" width="49.6" height="22.6" rx="3.5" fill="none" stroke="#aab2f0" stroke-width="1"/>
<!-- collapse button -->
<rect x="-3" y="46.8" width="23.2" height="13.4" rx="2" fill="none" stroke="#eceef1" stroke-width="1"/>
<path d="M3.9 52.2 L6.4 54.6 L8.9 52.2" stroke="#3a3e49" stroke-width="1" fill="none"/>
<!-- USD box -->
<rect x="1234.5" y="-2" width="43" height="18.6" rx="3" fill="none" stroke="#eff0f3" stroke-width="1"/>
<path d="M1272.2 7.7 L1274.1 9.1 L1276 7.7" stroke="#2a2e39" stroke-width="1.1" fill="none"/>
<!-- price label boxes -->
<rect x="1191.2" y="415.9" width="39.9" height="13.9" fill="#3d9a80"/>
<rect x="1232.1" y="415.9" width="47.9" height="24.9" fill="#3d9a80"/>
<!-- settings hex -->
<path d="M1254.6 766.2 H1259.6 L1262.1 770.3 L1259.6 774.4 H1254.6 L1252.1 770.3 Z" stroke="#3a3e49" stroke-width="1" fill="none"/>
<circle cx="1257.1" cy="770.3" r="1.6" stroke="#3a3e49" stroke-width="1" fill="none"/>
<text x="14.16" y="12.10" font-size="10.6" fill="#131722" textLength="48.17" lengthAdjust="spacingAndGlyphs" stroke="#131722" stroke-width="0.3">Ethereum</text>
<text x="74.36" y="12.10" font-size="10.6" fill="#131722" textLength="19.67" lengthAdjust="spacingAndGlyphs" stroke="#131722" stroke-width="0.3">U.S.</text>
<text x="98.26" y="12.10" font-size="10.6" fill="#131722" textLength="28.47" lengthAdjust="spacingAndGlyphs" stroke="#131722" stroke-width="0.3">Dollar</text>
<text x="134.36" y="12.10" font-size="10.6" fill="#131722" textLength="12.47" lengthAdjust="spacingAndGlyphs" stroke="#131722" stroke-width="0.3">1h</text>
<text x="154.96" y="12.10" font-size="10.6" fill="#131722" textLength="43.97" lengthAdjust="spacingAndGlyphs" stroke="#131722" stroke-width="0.3">Coinbase</text>
<text x="66.8" y="12.1" font-size="10.6" fill="#131722" stroke="#131722" stroke-width="0.3">/</text>
<circle cx="130.4" cy="8.9" r="1.1" fill="#131722"/><circle cx="151" cy="8.9" r="1.1" fill="#131722"/>
<text x="231.77" y="11.1" font-size="8.6" textLength="41.16" lengthAdjust="spacingAndGlyphs"><tspan fill="#2a2e39">O</tspan><tspan fill="#3aa18a">4,323.09</tspan></text>
<text x="277.27" y="11.1" font-size="8.6" textLength="40.66" lengthAdjust="spacingAndGlyphs"><tspan fill="#2a2e39">H</tspan><tspan fill="#3aa18a">4,329.20</tspan></text>
<text x="322.32" y="11.1" font-size="8.6" textLength="39.36" lengthAdjust="spacingAndGlyphs"><tspan fill="#2a2e39">L</tspan><tspan fill="#3aa18a">4,320.99</tspan></text>
<text x="365.82" y="11.1" font-size="8.6" textLength="40.21" lengthAdjust="spacingAndGlyphs"><tspan fill="#2a2e39">C</tspan><tspan fill="#3aa18a">4,327.90</tspan></text>
<text x="410.57" y="11.10" font-size="8.6" fill="#3aa18a" textLength="21.76" lengthAdjust="spacingAndGlyphs">+4.50</text>
<text x="435.17" y="11.10" font-size="8.6" fill="#3aa18a" textLength="33.01" lengthAdjust="spacingAndGlyphs">(+0.10%)</text>
<text x="6.07" y="27.60" font-size="8.6" fill="#cc3e48" textLength="35.11" lengthAdjust="spacingAndGlyphs" stroke="#cc3e48" stroke-width="0.2">4,327.90</text>
<text x="15.60" y="37.30" font-size="8.0" fill="#d6525b" textLength="16.30" lengthAdjust="spacingAndGlyphs" stroke="#d6525b" stroke-width="0.15">SELL</text>
<text x="53.87" y="32.00" font-size="6.6" fill="#2a2e39" textLength="13.66" lengthAdjust="spacingAndGlyphs">0.05</text>
<text x="80.17" y="27.80" font-size="8.6" fill="#4651d0" textLength="35.26" lengthAdjust="spacingAndGlyphs" stroke="#4651d0" stroke-width="0.2">4,327.95</text>
<text x="90.60" y="36.80" font-size="8.0" fill="#5a64d4" textLength="13.80" lengthAdjust="spacingAndGlyphs" stroke="#5a64d4" stroke-width="0.15">BUY</text>
<text x="12.30" y="56.30" font-size="8.0" fill="#2a2e39" textLength="4.90" lengthAdjust="spacingAndGlyphs">6</text>
<text x="1236.90" y="11.00" font-size="8.0" fill="#2a2e39" textLength="14.40" lengthAdjust="spacingAndGlyphs" stroke="#2a2e39" stroke-width="0.25">USD</text>
<text x="1238.11" y="31.70" font-size="9.8" fill="#2a2e39" textLength="38.08" lengthAdjust="spacingAndGlyphs">5,500.00</text>
<text x="1238.11" y="65.29" font-size="9.8" fill="#2a2e39" textLength="38.08" lengthAdjust="spacingAndGlyphs">5,400.00</text>
<text x="1238.11" y="98.88" font-size="9.8" fill="#2a2e39" textLength="38.08" lengthAdjust="spacingAndGlyphs">5,300.00</text>
<text x="1238.11" y="132.47" font-size="9.8" fill="#2a2e39" textLength="38.08" lengthAdjust="spacingAndGlyphs">5,200.00</text>
<text x="1238.11" y="166.06" font-size="9.8" fill="#2a2e39" textLength="38.08" lengthAdjust="spacingAndGlyphs">5,100.00</text>
<text x="1238.11" y="199.65" font-size="9.8" fill="#2a2e39" textLength="38.08" lengthAdjust="spacingAndGlyphs">5,000.00</text>
<text x="1238.11" y="233.24" font-size="9.8" fill="#2a2e39" textLength="38.08" lengthAdjust="spacingAndGlyphs">4,900.00</text>
<text x="1238.11" y="266.83" font-size="9.8" fill="#2a2e39" textLength="38.08" lengthAdjust="spacingAndGlyphs">4,800.00</text>
<text x="1238.11" y="300.42" font-size="9.8" fill="#2a2e39" textLength="38.08" lengthAdjust="spacingAndGlyphs">4,700.00</text>
<text x="1238.11" y="334.01" font-size="9.8" fill="#2a2e39" textLength="38.08" lengthAdjust="spacingAndGlyphs">4,600.00</text>
<text x="1238.11" y="367.60" font-size="9.8" fill="#2a2e39" textLength="38.08" lengthAdjust="spacingAndGlyphs">4,500.00</text>
<text x="1238.11" y="401.19" font-size="9.8" fill="#2a2e39" textLength="38.08" lengthAdjust="spacingAndGlyphs">4,400.00</text>
<text x="1238.11" y="468.37" font-size="9.8" fill="#2a2e39" textLength="38.08" lengthAdjust="spacingAndGlyphs">4,200.00</text>
<text x="1238.11" y="501.96" font-size="9.8" fill="#2a2e39" textLength="38.08" lengthAdjust="spacingAndGlyphs">4,100.00</text>
<text x="1238.11" y="535.55" font-size="9.8" fill="#2a2e39" textLength="38.08" lengthAdjust="spacingAndGlyphs">4,000.00</text>
<text x="1238.11" y="569.14" font-size="9.8" fill="#2a2e39" textLength="38.08" lengthAdjust="spacingAndGlyphs">3,900.00</text>
<text x="1238.11" y="602.73" font-size="9.8" fill="#2a2e39" textLength="38.08" lengthAdjust="spacingAndGlyphs">3,800.00</text>
<text x="1238.11" y="636.32" font-size="9.8" fill="#2a2e39" textLength="38.08" lengthAdjust="spacingAndGlyphs">3,700.00</text>
<text x="1238.11" y="669.91" font-size="9.8" fill="#2a2e39" textLength="38.08" lengthAdjust="spacingAndGlyphs">3,600.00</text>
<text x="1238.11" y="703.50" font-size="9.8" fill="#2a2e39" textLength="38.08" lengthAdjust="spacingAndGlyphs">3,500.00</text>
<text x="1238.11" y="737.09" font-size="9.8" fill="#2a2e39" textLength="38.08" lengthAdjust="spacingAndGlyphs">3,400.00</text>
<text x="12.50" y="772.6" font-size="9.6" fill="#2a2e39" text-anchor="middle">3</text>
<text x="58.32" y="772.6" font-size="9.6" fill="#2a2e39" text-anchor="middle">5</text>
<text x="104.13" y="772.6" font-size="9.6" fill="#2a2e39" text-anchor="middle">7</text>
<text x="149.95" y="772.6" font-size="9.6" fill="#2a2e39" text-anchor="middle">9</text>
<text x="195.76" y="772.6" font-size="9.6" fill="#2a2e39" text-anchor="middle">11</text>
<text x="241.58" y="772.6" font-size="9.6" fill="#2a2e39" text-anchor="middle">13</text>
<text x="287.40" y="772.6" font-size="9.6" fill="#2a2e39" text-anchor="middle">15</text>
<text x="333.21" y="772.6" font-size="9.6" fill="#2a2e39" text-anchor="middle">17</text>
<text x="379.03" y="772.6" font-size="9.6" fill="#2a2e39" text-anchor="middle">19</text>
<text x="424.84" y="772.6" font-size="9.6" fill="#2a2e39" text-anchor="middle">21</text>
<text x="470.66" y="772.6" font-size="9.6" fill="#2a2e39" text-anchor="middle">23</text>
<text x="516.48" y="772.6" font-size="9.6" fill="#2a2e39" text-anchor="middle">25</text>
<text x="562.29" y="772.6" font-size="9.6" fill="#2a2e39" text-anchor="middle">27</text>
<text x="608.11" y="772.6" font-size="9.6" fill="#2a2e39" text-anchor="middle">29</text>
<text x="676.83" y="772.6" font-size="9.6" font-weight="bold" fill="#131722" text-anchor="middle">Sep</text>
<text x="722.65" y="772.6" font-size="9.6" fill="#2a2e39" text-anchor="middle">3</text>
<text x="768.46" y="772.6" font-size="9.6" fill="#2a2e39" text-anchor="middle">5</text>
<text x="814.28" y="772.6" font-size="9.6" fill="#2a2e39" text-anchor="middle">7</text>
<text x="860.10" y="772.6" font-size="9.6" fill="#2a2e39" text-anchor="middle">9</text>
<text x="905.91" y="772.6" font-size="9.6" fill="#2a2e39" text-anchor="middle">11</text>
<text x="951.73" y="772.6" font-size="9.6" fill="#2a2e39" text-anchor="middle">13</text>
<text x="997.54" y="772.6" font-size="9.6" fill="#2a2e39" text-anchor="middle">15</text>
<text x="1043.36" y="772.6" font-size="9.6" fill="#2a2e39" text-anchor="middle">17</text>
<text x="1089.18" y="772.6" font-size="9.6" fill="#2a2e39" text-anchor="middle">19</text>
<text x="1134.99" y="772.6" font-size="9.6" fill="#2a2e39" text-anchor="middle">21</text>
<text x="1180.81" y="772.6" font-size="9.6" fill="#2a2e39" text-anchor="middle">23</text>
<text x="1226.62" y="772.6" font-size="9.6" fill="#2a2e39" text-anchor="middle">25</text>
<text x="1194.24" y="426.00" font-size="9.2" fill="#effaf6" textLength="33.92" lengthAdjust="spacingAndGlyphs" stroke="#effaf6" stroke-width="0.2">ETHUSD</text>
<text x="1238.04" y="426.00" font-size="9.2" fill="#effaf6" textLength="38.42" lengthAdjust="spacingAndGlyphs" stroke="#effaf6" stroke-width="0.2">4,327.90</text>
<text x="1238.04" y="436.70" font-size="9.2" fill="#effaf6" textLength="24.22" lengthAdjust="spacingAndGlyphs" stroke="#effaf6" stroke-width="0.2">57:53</text>

</svg>
</body></html>
